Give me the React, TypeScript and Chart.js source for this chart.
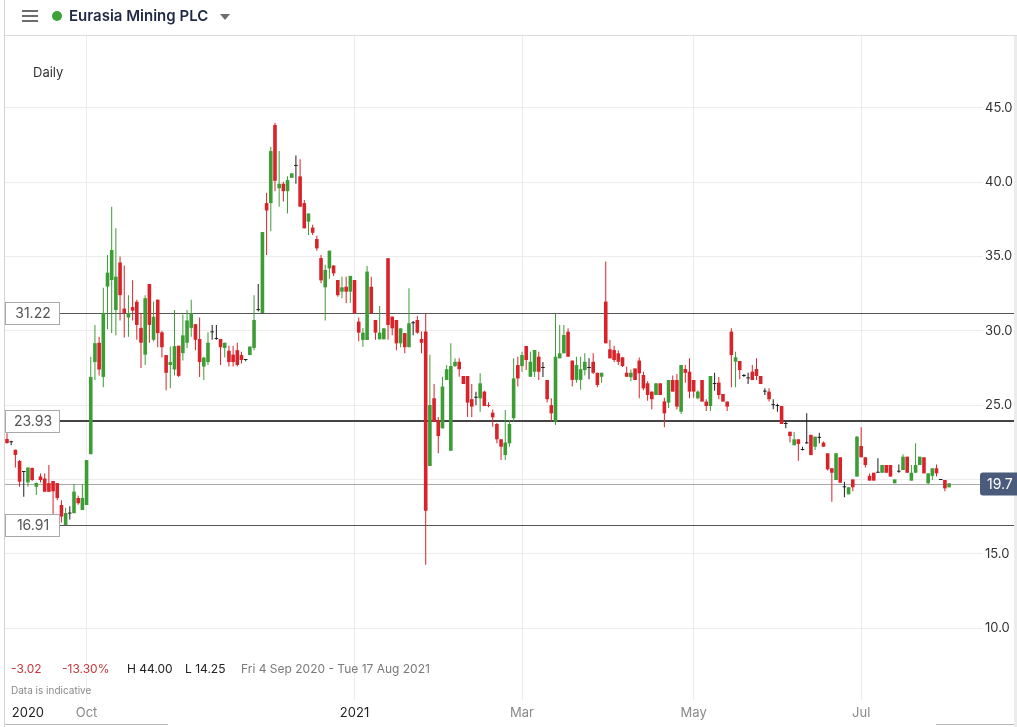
import React, { useEffect, useRef } from 'react';
import { Chart, registerables } from 'chart.js';

Chart.register(...registerables);

// Daily OHLC, Fri 4 Sep 2020 onward (one entry per trading day)
const opens = [
  22.72, 22.5, 22.0, 21.24, 20.5, 19.8, 20.77, 19.5, 20.2, 20.06, 19.75, 19.9, 19.75, 18.28, 16.93, 17.7, 17.73, 18.75, 17.94,
  18.28, 21.7, 27.9, 29.2, 26.9, 32.98, 33.42, 31.4, 34.6, 31.5, 30.9, 31.6, 31.96, 30.2, 28.4, 33.15, 29.4, 32.1, 29.9, 28.37,
  27.7, 27.4, 29.0, 28.5, 29.2, 30.2, 30.45, 29.45, 27.6, 27.9, 29.9, 29.45, 29.45, 28.85, 28.66, 28.4, 28.7, 28.37, 28.04, 28.37,
  28.85, 31.4, 31.2, 38.6, 38.6, 43.86, 39.6, 39.9, 39.4, 40.3, 41.1, 40.4, 38.6, 37.35, 36.95, 36.18, 34.9, 32.93, 34.2, 34.4,
  33.42, 32.64, 32.97, 32.64,
  33.42, 30.62, 29.39, 29.39, 32.97, 30.73, 29.43, 29.43, 34.89, 30.96, 30.73, 29.16, 29.85, 28.9, 30.51, 30.73, 29.45, 29.95,
  20.9, 25.46, 24.0, 23.44, 26.7, 21.93, 27.63, 27.92, 26.96, 26.96, 25.4, 25.5, 25.46, 25.91, 25.0, 24.49, 23.73, 22.7, 21.64,
  22.43, 24.12, 27.7,
  27.63, 28.98, 26.91, 27.25, 28.26, 27.5, 26.69, 25.0, 23.89, 28.15, 28.49, 29.94, 28.0, 26.7, 26.7, 27.36, 27.5, 27.92, 27.18,
  26.91, 31.97, 28.76, 28.71, 28.49, 28.22, 27.18, 26.88, 27.47, 28.0, 27.03, 26.47, 25.91, 25.68, 26.47, 25.25, 25.17, 26.69,
  26.69, 24.56, 27.43, 27.25, 26.69,
  25.46, 26.69, 25.24, 24.94, 26.42, 26.52, 25.75, 25.24, 29.95, 27.92, 27.97, 26.96, 26.8, 27.25, 27.43, 26.96, 25.91, 25.91,
  25.0, 24.94, 24.94, 23.73, 23.21, 22.3, 22.7, 21.98, 22.43, 23.0, 22.2, 22.8, 22.48, 21.76, 20.75, 19.96, 21.49, 19.47, 19.0,
  20.0, 20.19, 22.25,
  21.49, 20.24, 20.45, 20.45, 20.45, 20.97, 20.97, 19.74, 20.52, 20.63, 21.53, 19.92, 20.45, 20.97, 21.49, 19.74, 20.24, 20.75,
  19.96, 19.96, 19.47,
];
const highs = [
  23.1, 22.6, 22.0, 21.3, 20.55, 20.8, 20.8, 19.8, 20.4, 20.4, 20.97, 19.9, 19.75, 18.6, 18.1, 18.2, 19.7, 18.9, 19.7,
  21.3, 28.26, 30.4, 29.6, 32.9, 35.1, 38.36, 36.9, 35.0, 34.4, 32.4, 33.4, 32.1, 31.2, 32.4, 33.15, 31.97, 32.1, 30.0, 28.37,
  28.94, 31.4, 29.0, 31.1, 31.4, 32.1, 30.45, 30.9, 28.26, 29.9, 30.4, 30.4, 29.45, 29.2, 29.0, 29.0, 29.2, 28.6, 28.1, 28.94,
  32.4, 33.15, 36.65, 39.3, 42.4, 44.0, 42.1, 40.04, 40.4, 40.6, 41.8, 41.55, 38.8, 37.9, 37.15, 36.4, 35.1, 34.45, 35.4, 34.4,
  33.42, 33.64, 33.64, 33.7,
  33.42, 30.9, 30.2, 34.37, 33.64, 30.73, 31.67, 30.17, 34.89, 30.96, 30.73, 30.17, 29.85, 32.86, 30.66, 31.0, 29.95, 31.13,
  28.4, 26.43, 24.2, 26.91, 27.7, 29.16, 28.15, 28.15, 26.96, 26.96, 26.42, 25.9, 27.14, 25.97, 25.2, 24.7, 23.8, 22.7, 24.67,
  24.0, 28.15, 28.26,
  28.6, 28.98, 28.6, 28.71, 28.6, 27.9, 26.69, 25.46, 31.13, 30.4, 30.4, 30.17, 28.0, 28.26, 28.26, 28.5, 28.15, 28.5, 27.18,
  27.18, 34.66, 29.39, 29.0, 28.7, 28.22, 27.6, 27.4, 27.47, 28.2, 27.25, 26.6, 25.91, 26.47, 26.47, 25.5, 26.69, 27.0,
  27.1, 27.7, 27.7, 28.15, 26.69,
  26.0, 26.69, 25.4, 26.96, 27.18, 26.9, 25.75, 25.24, 30.17, 28.6, 27.97, 27.1, 27.18, 27.7, 28.15, 26.96, 26.13, 26.13,
  25.4, 25.1, 24.94, 23.9, 23.21, 23.2, 22.7, 22.2, 24.45, 23.0, 22.88, 23.15, 22.55, 21.76, 20.75, 21.76, 21.49, 19.85, 19.47,
  20.0, 22.92, 23.51,
  21.49, 20.4, 20.45, 21.42, 20.97, 20.97, 20.97, 20.0, 21.0, 21.7, 21.53, 20.97, 22.43, 21.53, 21.49, 20.41, 20.75, 21.0,
  19.96, 19.96, 19.74,
];
const lows = [
  22.4, 22.3, 20.8, 19.5, 18.84, 19.5, 19.9, 18.95, 19.8, 19.17, 19.17, 16.5, 18.6, 17.1, 16.93, 17.3, 17.73, 18.3, 17.94,
  18.28, 21.7, 26.7, 27.0, 26.2, 30.1, 29.85, 29.7, 30.7, 29.55, 29.6, 30.7, 29.4, 27.5, 27.7, 29.2, 29.3, 28.9, 28.2, 26.0,
  26.13, 27.0, 26.9, 28.0, 28.85, 29.6, 28.7, 26.9, 26.7, 27.7, 29.4, 29.4, 27.7, 28.2, 27.6, 27.6, 27.6, 27.8, 27.95, 28.37,
  28.7, 31.3, 31.2, 35.1, 36.7, 39.4, 38.36, 38.7, 37.9, 40.3, 39.9, 38.36, 36.9, 36.45, 36.45, 35.4, 33.2, 30.7, 33.5, 33.7,
  32.3, 32.2, 31.85, 31.9,
  31.18, 29.3, 28.93, 29.39, 31.18, 29.4, 29.43, 29.43, 29.4, 29.7, 28.7, 28.9, 28.49, 28.9, 29.7, 29.8, 28.5, 14.25,
  20.9, 23.89, 21.76, 23.44, 26.7, 21.93, 27.57, 26.91, 26.42, 24.2, 24.2, 25.0, 24.56, 24.94, 24.85, 23.55, 22.43, 21.3, 21.3,
  22.2, 23.9, 26.25,
  27.25, 27.36, 26.91, 26.9, 26.7, 26.9, 25.17, 23.9, 23.66, 28.15, 28.49, 28.26, 26.25, 26.5, 26.03, 27.0, 26.74, 27.1, 26.2,
  26.5, 29.16, 28.15, 27.9, 27.7, 27.57, 26.91, 26.6, 26.69, 25.46, 26.0, 25.3, 24.73, 25.68, 25.68, 23.51, 24.8, 25.91,
  24.7, 24.4, 26.5, 25.46, 25.5,
  25.4, 25.24, 24.6, 24.6, 25.97, 25.4, 25.24, 24.6, 26.2, 26.2, 26.75, 26.9, 26.42, 26.69, 26.7, 26.42, 25.68, 25.24,
  24.73, 24.55, 23.73, 23.45, 22.48, 22.3, 21.26, 21.95, 22.4, 21.64, 21.98, 22.43, 22.2, 20.6, 18.5, 19.96, 19.78, 18.8, 19.0,
  19.2, 20.19, 21.49,
  20.8, 19.92, 19.92, 20.45, 20.45, 20.45, 20.19, 19.74, 20.45, 20.63, 20.45, 19.92, 20.45, 20.97, 20.41, 19.7, 19.96, 20.2,
  19.96, 19.2, 19.47,
];
const closes = [
  22.45, 22.5, 21.65, 19.85, 20.5, 20.8, 19.96, 19.76, 19.96, 19.17, 19.17, 19.2, 18.75, 17.5, 17.74, 17.7, 19.18, 18.4, 18.75,
  21.3, 26.9, 29.17, 27.4, 31.2, 33.92, 35.44, 33.65, 32.4, 31.2, 31.2, 31.36, 30.4, 29.2, 32.2, 30.4, 30.95, 29.85, 28.9, 27.18,
  27.9, 28.97, 26.97, 29.7, 30.7, 31.2, 29.4, 27.9, 28.2, 29.2, 29.9, 29.45, 28.9, 29.2, 27.9, 27.9, 27.7, 28.04, 28.04, 28.94,
  30.73, 31.4, 36.65, 38.1, 42.1, 40.1, 39.9, 39.4, 40.15, 40.6, 41.1, 38.36, 36.9, 37.9, 36.6, 35.55, 33.4, 34.1, 35.4, 33.87,
  32.4, 32.93, 32.64, 33.7,
  31.18, 29.88, 29.88, 33.99, 31.18, 29.88, 29.88, 30.17, 30.4, 30.17, 29.16, 30.17, 28.9, 30.51, 30.51, 29.88, 29.2, 17.9,
  25.01, 23.89, 22.92, 26.25, 27.42, 27.63, 27.92, 27.42, 26.42, 25.17, 24.9, 25.5, 26.47, 24.94, 24.94, 24.18, 22.7, 22.2, 22.48,
  23.73, 26.8, 26.8,
  28.37, 28.04, 27.92, 28.71, 27.25, 27.5, 25.4, 24.45, 28.26, 28.49, 29.72, 28.26, 26.7, 27.7, 27.42, 27.92, 27.5, 27.18, 26.36,
  27.18, 29.16, 28.15, 28.04, 27.92, 27.63, 26.91, 27.18, 26.69, 27.14, 26.13, 25.68, 25.4, 26.47, 25.68, 24.45, 26.69, 25.91,
  24.9, 27.7, 27.18, 25.91, 25.91,
  25.91, 25.24, 24.94, 26.96, 26.42, 25.68, 25.24, 24.9, 28.37, 28.22, 27.36, 26.96, 26.8, 26.69, 26.96, 26.42, 25.91, 25.4,
  25.0, 24.94, 23.73, 23.73, 22.92, 22.7, 22.39, 21.98, 22.43, 21.64, 22.88, 22.8, 22.2, 20.68, 20.45, 21.76, 19.78, 19.47, 19.47,
  19.47, 22.88, 21.49,
  20.97, 19.92, 19.92, 20.45, 20.97, 20.45, 20.19, 20.0, 20.52, 21.53, 20.45, 20.45, 20.97, 21.53, 20.41, 20.41, 20.75, 20.41,
  19.96, 19.4, 19.74,
];

// Axis labels (tick positions are trading-day indices)
const xTickIndex = [5, 19, 83, 123, 164, 204];
const xTickLabels = ['2020', 'Oct', '2021', 'Mar', 'May', 'Jul'];
const yTickValues = [10, 15, 20, 25, 30, 35, 40, 45];
const levelValues = [31.22, 23.93, 16.91];
const levelLabels = ['31.22', '23.93', '16.91'];
const lastPrice = 19.7;
const lastPriceLabel = '19.7';

const GREEN = '#3c9d35';
const RED = '#d8232a';
const DOJI = '#1e1e1e';
const FONT = 'Inter, "Open Sans", sans-serif';

export default function App() {
  const canvasRef = useRef<HTMLCanvasElement | null>(null);

  useEffect(() => {
    document.body.style.margin = '0';
    const canvas = canvasRef.current;
    if (!canvas) return;

    const idx = opens.map((_, i) => i);
    const colors = idx.map((i) => (closes[i] > opens[i] ? GREEN : closes[i] < opens[i] ? RED : DOJI));
    const bodyData = idx.map((i) => ({ x: i, y: [Math.min(opens[i], closes[i]), Math.max(opens[i], closes[i])] }));
    const wickData = idx.map((i) => ({ x: i, y: [lows[i], highs[i]] }));

    const overlay = {
      id: 'overlay',
      beforeDatasetsDraw(chart: any) {
        const { ctx } = chart;
        const ys = chart.scales.y;
        ctx.save();
        const py = Math.round(ys.getPixelForValue(lastPrice)) + 0.5;
        ctx.strokeStyle = '#a8a8a8';
        ctx.lineWidth = 1;
        ctx.beginPath();
        ctx.moveTo(5, py);
        ctx.lineTo(980, py);
        ctx.stroke();
        levelValues.forEach((v, i) => {
          const thick = i === 1;
          const ly = thick ? Math.round(ys.getPixelForValue(v)) : Math.round(ys.getPixelForValue(v)) + 0.5;
          ctx.strokeStyle = thick ? '#444' : '#555';
          ctx.lineWidth = thick ? 2 : 1;
          ctx.beginPath();
          ctx.moveTo(60, ly);
          ctx.lineTo(1014, ly);
          ctx.stroke();
        });
        ctx.restore();
      },
      afterDraw(chart: any) {
        const { ctx } = chart;
        const ys = chart.scales.y;
        ctx.save();
        ctx.fillStyle = '#d4d4d4';
        ctx.fillRect(4, 0, 1, 727);
        ctx.fillStyle = '#ececec';
        ctx.fillRect(1014, 36, 3, 691);
        ctx.font = `14px ${FONT}`;
        ctx.textAlign = 'center';
        ctx.textBaseline = 'middle';
        levelValues.forEach((v, i) => {
          const ly = Math.round(ys.getPixelForValue(v));
          ctx.fillStyle = '#ffffff';
          ctx.fillRect(5, ly - 11, 55, 23);
          ctx.strokeStyle = '#a9a9a9';
          ctx.lineWidth = 1;
          ctx.strokeRect(5.5, ly - 10.5, 54, 22);
          ctx.fillStyle = '#555';
          ctx.fillText(levelLabels[i], 33, ly + 1);
        });
        const py = Math.round(ys.getPixelForValue(lastPrice));
        ctx.fillStyle = '#4b5b7b';
        ctx.beginPath();
        ctx.moveTo(983, py - 11.5);
        ctx.lineTo(1017, py - 11.5);
        ctx.lineTo(1017, py + 11.5);
        ctx.lineTo(983, py + 11.5);
        ctx.quadraticCurveTo(980, py + 11.5, 980, py + 8.5);
        ctx.lineTo(980, py - 8.5);
        ctx.quadraticCurveTo(980, py - 11.5, 983, py - 11.5);
        ctx.fill();
        ctx.fillStyle = '#ffffff';
        ctx.textAlign = 'left';
        ctx.fillText(lastPriceLabel, 987, py + 1);
        ctx.restore();
      },
    };

    const chart = new Chart(canvas, {
      type: 'bar',
      data: {
        datasets: [
          {
            data: bodyData as any,
            backgroundColor: colors,
            borderWidth: 0,
            grouped: false,
            barPercentage: 1,
            categoryPercentage: 0.9,
            maxBarThickness: 3.6,
            minBarLength: 1,
          },
          {
            data: wickData as any,
            backgroundColor: colors,
            borderWidth: 0,
            grouped: false,
            barPercentage: 1,
            categoryPercentage: 0.9,
            maxBarThickness: 1,
            minBarLength: 1,
          },
        ],
      },
      options: {
        responsive: false,
        animation: false,
        layout: { padding: { left: 5, top: 36, right: 0, bottom: 0 } },
        plugins: { legend: { display: false }, tooltip: { enabled: false } },
        scales: {
          x: {
            type: 'linear',
            offset: false,
            min: -0.48,
            max: 233.1,
            afterBuildTicks: (s: any) => {
              s.ticks = xTickIndex.map((v) => ({ value: v }));
            },
            afterFit: (s: any) => {
              s.height = 27;
            },
            grid: {
              offset: false,
              color: (c: any) => (c.index === 0 ? 'rgba(0,0,0,0)' : '#ececec'),
              drawTicks: false,
            },
            border: { display: false },
            ticks: {
              autoSkip: false,
              maxRotation: 0,
              padding: 5,
              font: { family: FONT, size: 13 },
              color: (c: any) => (c.index === 0 || c.index === 2 ? '#222' : '#8a8a8a'),
              callback: (_v: any, i: number) => xTickLabels[i],
            },
          },
          y: {
            position: 'right',
            min: 5.154,
            max: 49.846,
            afterBuildTicks: (s: any) => {
              s.ticks = yTickValues.map((v) => ({ value: v }));
            },
            afterFit: (s: any) => {
              s.width = 34;
            },
            grid: { color: '#ececec', drawTicks: false },
            border: { display: false },
            ticks: {
              padding: 2,
              font: { family: FONT, size: 13 },
              color: '#333',
              callback: (v: any) => Number(v).toFixed(1),
            },
          },
        },
      },
      plugins: [overlay],
    });
    return () => chart.destroy();
  }, []);

  const txt = (extra: any) => ({ position: 'absolute' as const, whiteSpace: 'nowrap' as const, fontFamily: FONT, ...extra });

  return (
    <div style={{ position: 'relative', width: 1017, height: 727, background: '#fff', overflow: 'hidden' }}>
      <canvas ref={canvasRef} width={1017} height={727} style={{ position: 'absolute', left: 0, top: 0, width: 1017, height: 727 }} />
      <div style={{ position: 'absolute', left: 5, top: 35, width: 1012, height: 1, background: '#dcdcdc' }} />
      <div style={{ position: 'absolute', left: 22, top: 10, width: 16, height: 2, background: '#6d6d6d' }} />
      <div style={{ position: 'absolute', left: 22, top: 15, width: 16, height: 2, background: '#6d6d6d' }} />
      <div style={{ position: 'absolute', left: 22, top: 20, width: 16, height: 2, background: '#6d6d6d' }} />
      <div style={{ position: 'absolute', left: 52, top: 11, width: 10, height: 10, borderRadius: 5, background: '#3aa33a' }} />
      <div style={txt({ left: 69, top: 6, fontSize: 15, fontWeight: 600, color: '#1f2946' })}>Eurasia Mining PLC</div>
      <div style={{ position: 'absolute', left: 220, top: 14, width: 0, height: 0, borderLeft: '5px solid transparent', borderRight: '5px solid transparent', borderTop: '6px solid #6d6d6d' }} />
      <div style={txt({ left: 33, top: 64, fontSize: 13, color: '#333' })}>Daily</div>
      <div style={txt({ left: 11, top: 661, fontSize: 12, color: '#c8383a' })}>-3.02</div>
      <div style={txt({ left: 62, top: 661, fontSize: 12, color: '#c8383a' })}>-13.30%</div>
      <div style={txt({ left: 127, top: 661, fontSize: 12, color: '#222' })}>H 44.00</div>
      <div style={txt({ left: 185, top: 661, fontSize: 12, color: '#222' })}>L 14.25</div>
      <div style={txt({ left: 241, top: 661, fontSize: 12, color: '#7a7a7a' })}>Fri 4 Sep 2020 - Tue 17 Aug 2021</div>
      <div style={txt({ left: 11, top: 684, fontSize: 10, color: '#8a8a8a' })}>Data is indicative</div>
      <div style={{ position: 'absolute', left: 5, top: 724, width: 163, height: 1, background: '#b8b8b8' }} />
      <div style={{ position: 'absolute', left: 936, top: 724, width: 78, height: 1, background: '#b8b8b8' }} />
    </div>
  );
}
